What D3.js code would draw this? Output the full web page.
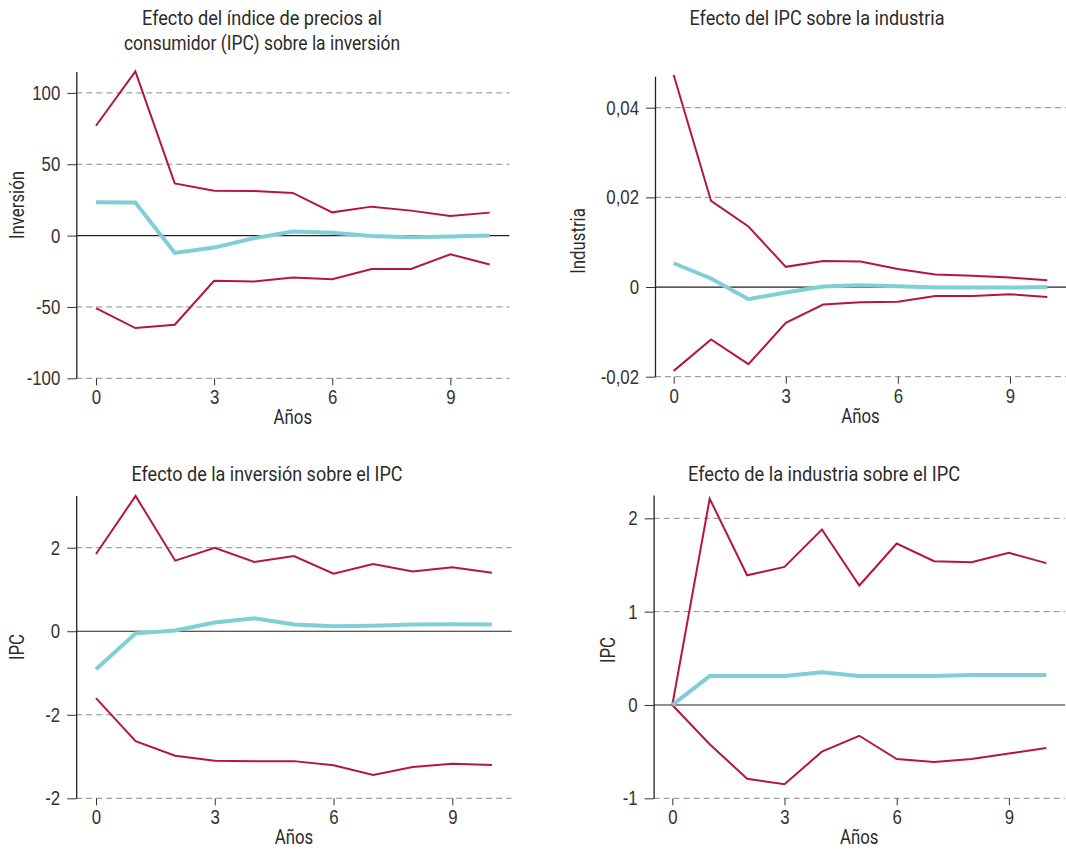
<!DOCTYPE html>
<html>
<head>
<meta charset="utf-8">
<script src="https://cdn.jsdelivr.net/npm/d3@7"></script>
<style>
  body { margin: 0; background: #fff; }
  svg { display: block; font-family: "Roboto", "Liberation Sans", sans-serif; }
  .tick text { fill: #333; font-size: 20px; font-weight: 300; }
  .tick line { stroke: #333; }
</style>
</head>
<body>
<svg id="chart" width="1066" height="855"></svg>
<script>
// Years after the shock
const years = [0, 1, 2, 3, 4, 5, 6, 7, 8, 9, 10];
const xTicks = [0, 3, 6, 9];

// IPC -> inversión
const invUpper = [77, 115, 36.6, 31.5, 31.2, 29.9, 16.3, 20.3, 17.5, 13.8, 16.1];
const invCenter = [23.3, 23.2, -12.1, -8.4, -1.9, 2.8, 2, -0.3, -1.2, -0.7, 0];
const invLower = [-50.8, -64.8, -62.5, -31.7, -32.2, -29.4, -30.6, -23.4, -23.4, -13.1, -20.3];
const invTicks = [-100, -50, 0, 50, 100];
const invTickLabels = ["-100", "-50", "0", "50", "100"];

// IPC -> industria
const indUpper = [0.0473, 0.0192, 0.0135, 0.0045, 0.0058, 0.0057, 0.0040, 0.0028, 0.0025, 0.0021, 0.0015];
const indCenter = [0.0053, 0.0019, -0.0027, -0.0012, 0.0001, 0.0004, 0.0002, -0.0001, -0.0001, -0.0001, 0];
const indLower = [-0.0187, -0.0117, -0.0172, -0.0080, -0.0039, -0.0034, -0.0033, -0.0020, -0.0020, -0.0016, -0.0022];
const indTicks = [-0.02, 0, 0.02, 0.04];
const indTickLabels = ["-0,02", "0", "0,02", "0,04"];

// inversión -> IPC
const ipcInvUpper = [1.85, 3.24, 1.69, 2.0, 1.66, 1.80, 1.38, 1.61, 1.43, 1.53, 1.40];
const ipcInvCenter = [-0.91, -0.05, 0.02, 0.21, 0.31, 0.16, 0.12, 0.13, 0.16, 0.17, 0.16];
const ipcInvLower = [-1.60, -2.63, -2.98, -3.10, -3.11, -3.11, -3.21, -3.44, -3.25, -3.17, -3.20];
const ipcInvTicks = [-4, -2, 0, 2];
const ipcInvTickLabels = ["-2", "-2", "0", "2"];

// industria -> IPC
const ipcIndUpper = [0, 2.21, 1.39, 1.48, 1.88, 1.28, 1.73, 1.54, 1.53, 1.63, 1.52];
const ipcIndCenter = [0, 0.31, 0.31, 0.31, 0.35, 0.31, 0.31, 0.31, 0.32, 0.32, 0.32];
const ipcIndLower = [0, -0.42, -0.79, -0.85, -0.50, -0.33, -0.58, -0.61, -0.58, -0.52, -0.46];
const ipcIndTicks = [-1, 0, 1, 2];
const ipcIndTickLabels = ["-1", "0", "1", "2"];

const RED = "#b5163f";
const CYAN = "#80cfd6";
const TEXT = "#2b2b2b";
const CONDENSE = 0.84;

const svg = d3.select("#chart");

// Squeeze text horizontally (the original uses a condensed face)
const condense = (sel, factor) => {
  sel.each(function () {
    const w = this.getComputedTextLength();
    d3.select(this)
      .attr("textLength", w * factor)
      .attr("lengthAdjust", "spacingAndGlyphs");
  });
};

const drawPanel = (p) => {
  const x = d3.scaleLinear().domain([-0.5, 10.5]).range(p.xRange);
  const y = d3.scaleLinear().domain(p.yDomain).range(p.yRange);
  const g = svg.append("g");

  // Grid lines (dashed), zero line solid
  g.selectAll("line.grid")
    .data(p.ticks.filter((d) => d !== 0))
    .enter()
    .append("line")
    .attr("x1", p.xRange[0])
    .attr("x2", p.xRange[1])
    .attr("y1", (d) => y(d))
    .attr("y2", (d) => y(d))
    .style("stroke", "#8a8a8a")
    .style("stroke-width", 1)
    .style("stroke-dasharray", "6,4");

  g.append("line")
    .attr("x1", p.xRange[0])
    .attr("x2", p.xRange[1])
    .attr("y1", y(0))
    .attr("y2", y(0))
    .style("stroke", "#222")
    .style("stroke-width", 1.2);

  // Axes
  const yAxis = g
    .append("g")
    .attr("transform", `translate(${p.xRange[0]},0)`)
    .call(
      d3.axisLeft(y)
        .tickValues(p.ticks)
        .tickFormat((_, i) => p.tickLabels[i])
        .tickSize(9)
        .tickSizeOuter(0)
        .tickPadding(7)
    );
  yAxis.select(".domain").style("stroke", "#222").style("stroke-width", 1.3);
  condense(yAxis.selectAll("text"), CONDENSE);

  const xAxis = g
    .append("g")
    .attr("transform", `translate(0,${p.yRange[0]})`)
    .call(d3.axisBottom(x).tickValues(xTicks).tickSize(7).tickPadding(5));
  xAxis.select(".domain").remove();
  condense(xAxis.selectAll("text"), CONDENSE);

  // Lines
  const line = d3
    .line()
    .x((_, i) => x(years[i]))
    .y((d) => y(d));

  [p.upper, p.lower].forEach((s) => {
    g.append("path")
      .attr("d", line(s))
      .style("fill", "none")
      .style("stroke", RED)
      .style("stroke-width", 2);
  });
  g.append("path")
    .attr("d", line(p.center))
    .style("fill", "none")
    .style("stroke", CYAN)
    .style("stroke-width", 4);

  // Titles and labels
  p.title.forEach((t, i) => {
    g.append("text")
      .attr("x", p.titleX)
      .attr("y", p.titleY + i * 25)
      .attr("text-anchor", "middle")
      .attr("textLength", p.titleWidths[i])
      .attr("lengthAdjust", "spacingAndGlyphs")
      .style("font-size", "20px")
      .style("fill", TEXT)
      .text(t);
  });

  const yLab = g
    .append("text")
    .attr("transform", `translate(${p.yLabelPos[0]},${p.yLabelPos[1]}) rotate(-90)`)
    .attr("text-anchor", "middle")
    .attr("dy", "0.35em")
    .style("font-size", "20px")
    .style("fill", TEXT)
    .text(p.yLabel);
  condense(yLab, CONDENSE);

  const xLab = g
    .append("text")
    .attr("x", x(5))
    .attr("y", p.yRange[0] + 46)
    .attr("text-anchor", "middle")
    .style("font-size", "20px")
    .style("fill", TEXT)
    .text("Años");
  condense(xLab, CONDENSE);
};

drawPanel({
  xRange: [76.3, 509.4],
  yDomain: [-100, 115],
  yRange: [378.3, 71.5],
  ticks: invTicks,
  tickLabels: invTickLabels,
  upper: invUpper,
  center: invCenter,
  lower: invLower,
  title: ["Efecto del índice de precios al", "consumidor (IPC) sobre la inversión"],
  titleWidths: [240, 276],
  titleX: 262,
  titleY: 25,
  yLabel: "Inversión",
  yLabelPos: [16.5, 205],
});

drawPanel({
  xRange: [655, 1066],
  yDomain: [-0.02, 0.047],
  yRange: [376.7, 76.3],
  ticks: indTicks,
  tickLabels: indTickLabels,
  upper: indUpper,
  center: indCenter,
  lower: indLower,
  title: ["Efecto del IPC sobre la industria"],
  titleWidths: [255],
  titleX: 817,
  titleY: 25,
  yLabel: "Industria",
  yLabelPos: [578, 241],
});

drawPanel({
  xRange: [76.2, 511.7],
  yDomain: [-4, 3.25],
  yRange: [798.3, 495.5],
  ticks: ipcInvTicks,
  tickLabels: ipcInvTickLabels,
  upper: ipcInvUpper,
  center: ipcInvCenter,
  lower: ipcInvLower,
  title: ["Efecto de la inversión sobre el IPC"],
  titleWidths: [271],
  titleX: 267,
  titleY: 481,
  yLabel: "IPC",
  yLabelPos: [17, 647],
});

drawPanel({
  xRange: [653.6, 1065],
  yDomain: [-1, 2.25],
  yRange: [798.3, 495],
  ticks: ipcIndTicks,
  tickLabels: ipcIndTickLabels,
  upper: ipcIndUpper,
  center: ipcIndCenter,
  lower: ipcIndLower,
  title: ["Efecto de la industria sobre el IPC"],
  titleWidths: [272],
  titleX: 824,
  titleY: 481,
  yLabel: "IPC",
  yLabelPos: [608, 650],
});
</script>
</body>
</html>
